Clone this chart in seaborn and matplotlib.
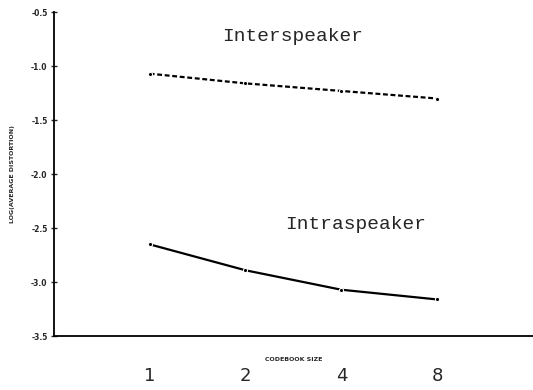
import matplotlib
matplotlib.use("Agg")
import matplotlib.pyplot as plt
import seaborn as sns
import pandas as pd

codebook_sizes = ["1", "2", "4", "8"]
interspeaker = [-1.07, -1.16, -1.23, -1.30]
intraspeaker = [-2.65, -2.89, -3.07, -3.16]
y_ticks = [-0.5, -1.0, -1.5, -2.0, -2.5, -3.0, -3.5]

pos = list(range(len(codebook_sizes)))
df = pd.DataFrame({
    "pos": pos * 2,
    "value": interspeaker + intraspeaker,
    "series": ["Interspeaker"] * 4 + ["Intraspeaker"] * 4,
})

sns.set_style("white")
fig = plt.figure(figsize=(5.33, 3.9), dpi=100)
ax = fig.add_axes([0.101, 0.138, 0.899, 0.831])

sns.lineplot(data=df, x="pos", y="value", hue="series", style="series",
             palette={"Interspeaker": "black", "Intraspeaker": "black"},
             dashes={"Interspeaker": (2.2, 1.2), "Intraspeaker": ""},
             markers={"Interspeaker": "o", "Intraspeaker": "o"},
             markersize=3, linewidth=1.6, legend=False, ax=ax)

ax.set_xlim(-1, 4)
ax.set_ylim(-3.5, -0.5)
ax.set_yticks(y_ticks)
ax.set_yticklabels([f"{v:.1f}" for v in y_ticks], fontsize=5.5, fontweight="bold")
ax.tick_params(axis="y", direction="inout", length=5, width=1, pad=2, left=True)
ax.set_xticks(pos)
ax.set_xticklabels(codebook_sizes, fontsize=13)
ax.tick_params(axis="x", length=0, pad=22)

for s in ["top", "right"]:
    ax.spines[s].set_visible(False)
for s in ["left", "bottom"]:
    ax.spines[s].set_color("black")
    ax.spines[s].set_linewidth(1.3)

ax.set_xlabel("CODEBOOK SIZE", fontsize=4.5, fontweight="bold")
ax.xaxis.set_label_coords(0.5, -0.065)
ax.set_ylabel("LOG(AVERAGE DISTORTION)", fontsize=4.5, fontweight="bold")
ax.yaxis.set_label_coords(-0.08, 0.5)

ax.text(1.49, -0.73, "Interspeaker", family="Liberation Mono", fontsize=14,
        ha="center", va="center")
ax.text(2.15, -2.47, "Intraspeaker", family="Liberation Mono", fontsize=14,
        ha="center", va="center")

fig.savefig("out.png", dpi=100)
